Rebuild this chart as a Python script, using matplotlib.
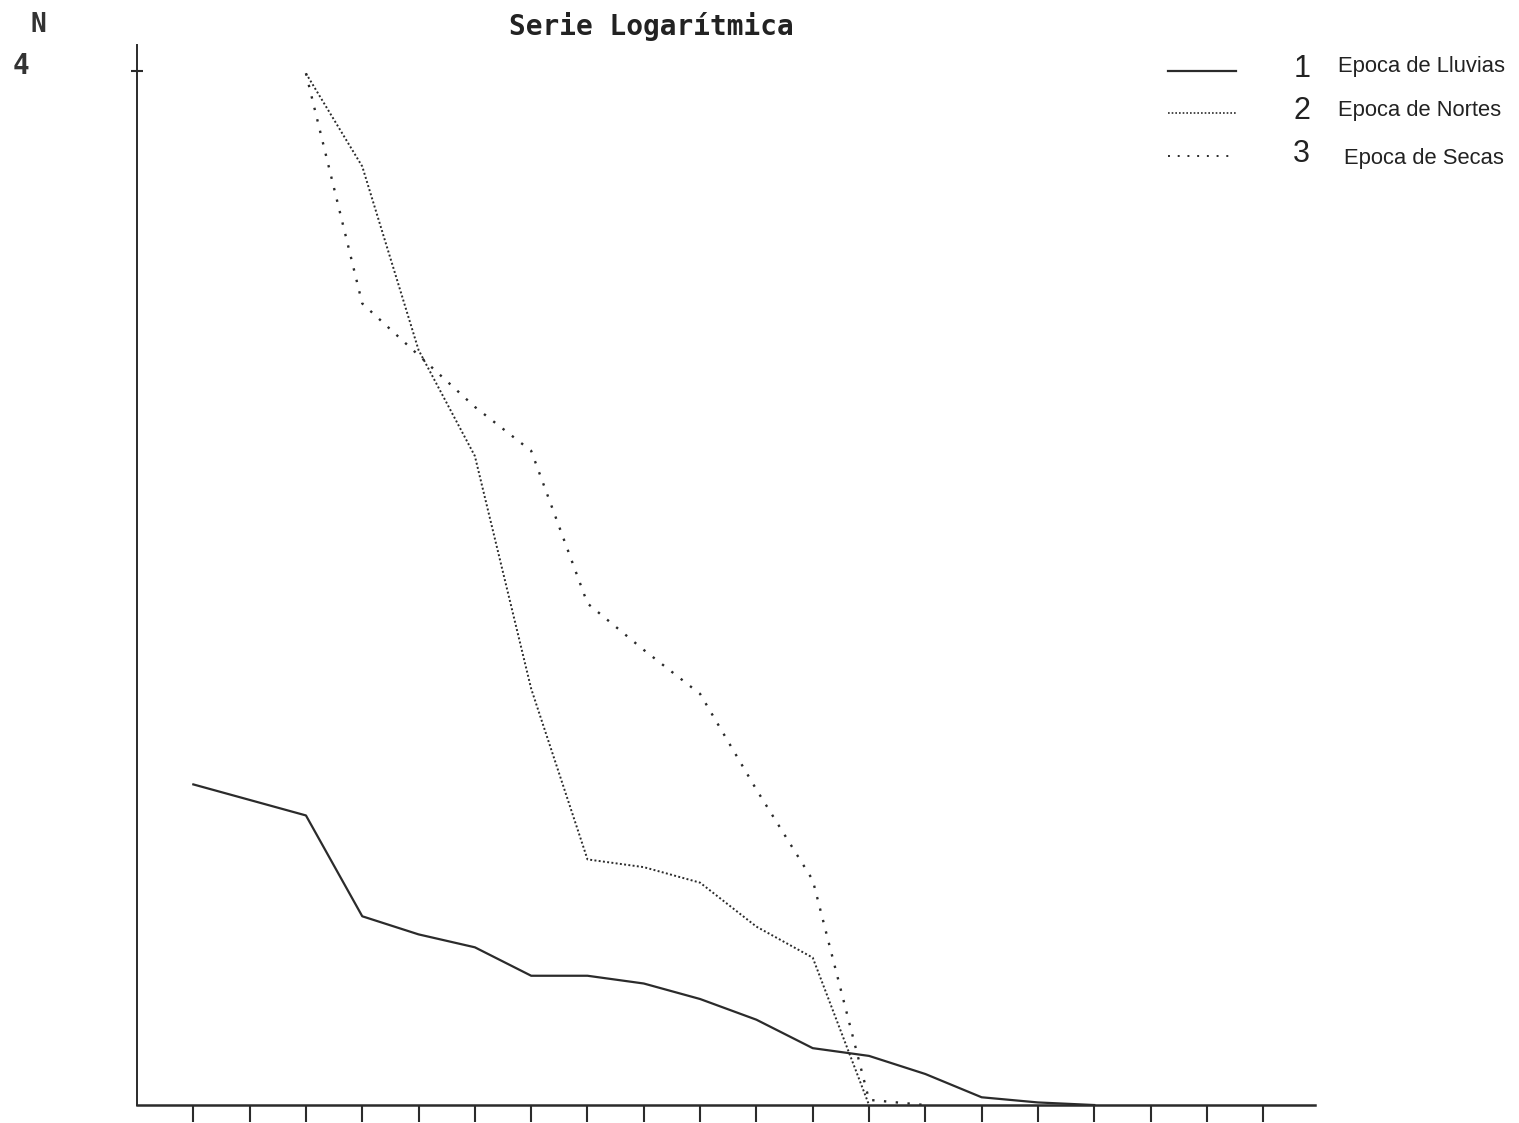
from pathlib import Path

import matplotlib.pyplot as plt
from matplotlib.lines import Line2D


OUT_PATH = Path("out.png")

# posicion de la clase (1..20) en el eje x
CLASES = list(range(1, 21))

# valores de N por epoca (serie logaritmica)
X_LLUVIAS = [1, 2, 3, 4, 5, 6, 7, 8, 9, 10, 11, 12, 13, 14, 15, 16, 17]
N_LLUVIAS = [1.24, 1.18, 1.12, 0.73, 0.66, 0.61, 0.50, 0.50, 0.47, 0.41,
             0.33, 0.22, 0.19, 0.12, 0.03, 0.01, 0.0]

X_NORTES = [3, 4, 5, 6, 7, 8, 9, 10, 11, 12, 13]
N_NORTES = [3.99, 3.63, 2.92, 2.51, 1.61, 0.95, 0.92, 0.86, 0.69, 0.57, 0.0]

X_SECAS = [3, 4, 5, 6, 7, 8, 9, 10, 11, 12, 13, 14]
N_SECAS = [3.99, 3.10, 2.90, 2.70, 2.53, 1.94, 1.76, 1.59, 1.22, 0.87, 0.02, 0.0]

ETIQUETAS = ["Epoca de Lluvias", "Epoca de Nortes", "Epoca de Secas"]

COLOR = "#2b2b2b"
ESTILO_LLUVIAS = "-"
ESTILO_NORTES = (0, (1.0, 1.2))
ESTILO_SECAS = (0, (1.0, 4.0))


def main():
    fig = plt.figure(figsize=(15.19, 11.23), dpi=100)
    ax = fig.add_axes([0.0902, 0.016, 0.7755, 0.944])

    ax.plot(X_LLUVIAS, N_LLUVIAS, color=COLOR, linewidth=1.6,
            linestyle=ESTILO_LLUVIAS)
    ax.plot(X_NORTES, N_NORTES, color=COLOR, linewidth=1.4,
            linestyle=ESTILO_NORTES)
    ax.plot(X_SECAS, N_SECAS, color=COLOR, linewidth=1.7,
            linestyle=ESTILO_SECAS)

    ax.set_xlim(0, 20.92)
    ax.set_ylim(0, 4.1)

    for lado in ["top", "right"]:
        ax.spines[lado].set_visible(False)
    ax.spines["left"].set_color(COLOR)
    ax.spines["left"].set_linewidth(1.4)
    ax.spines["bottom"].set_color(COLOR)
    ax.spines["bottom"].set_linewidth(1.8)

    ax.set_xticks(CLASES)
    ax.set_xticklabels([])
    ax.tick_params(axis="x", direction="out", length=12, width=1.5,
                   color=COLOR)

    # solo la marca del 4; su numero va en el margen izquierdo
    ax.set_yticks([4])
    ax.set_yticklabels([])
    ax.tick_params(axis="y", direction="inout", length=9, width=1.5,
                   color=COLOR)

    fig.text(0.025, 0.978, "N", family="DejaVu Sans Mono", fontsize=19,
             fontweight="bold", color="#333333", ha="center", va="center")
    fig.text(0.0135, 0.941, "4", family="DejaVu Sans Mono", fontsize=20,
             fontweight="bold", color="#333333", ha="center", va="center")
    fig.text(0.429, 0.976, "Serie Logarítmica", family="DejaVu Sans Mono",
             fontsize=20, fontweight="semibold", color="#222222",
             ha="center", va="center")

    # leyenda dibujada a mano: muestra de linea, numero y nombre
    estilos = [(ESTILO_LLUVIAS, 1.6), (ESTILO_NORTES, 1.2), (ESTILO_SECAS, 1.4)]
    filas_y = [0.937, 0.899, 0.861]
    desfase_texto = [0.004, 0.003, -0.002]
    for i, (etiqueta, (estilo, ancho), y) in enumerate(
        zip(ETIQUETAS, estilos, filas_y)
    ):
        fig.add_artist(Line2D([0.769, 0.814], [y, y], color=COLOR,
                              linewidth=ancho, linestyle=estilo))
        fig.text(0.857, y + 0.002, str(i + 1), family="Liberation Sans",
                 fontsize=22, color="#222222", ha="center", va="center")
        fig.text(0.881 + (0.004 if i == 2 else 0), y + desfase_texto[i],
                 etiqueta, family="Liberation Sans", fontsize=15.8,
                 color="#222222", ha="left", va="center")

    fig.savefig(OUT_PATH, dpi=100)
    plt.close(fig)


if __name__ == "__main__":
    main()
